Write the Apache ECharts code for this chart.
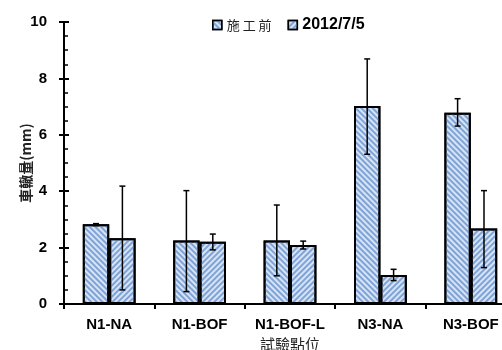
<!DOCTYPE html>
<html>
<head>
<meta charset="utf-8">
<script src="https://cdn.jsdelivr.net/npm/echarts@6/dist/echarts.min.js"></script>
<style>
  html, body { margin: 0; padding: 0; background: #fff; }
  #chart { width: 502px; height: 350px; }
</style>
</head>
<body>
<div id="chart"></div>
<script>
// 試驗點位
const categories = ['N1-NA', 'N1-BOF', 'N1-BOF-L', 'N3-NA', 'N3-BOF'];
const seriesNames = ['施工前', '2012/7/5'];

// 車轍量 (mm)
const before = [2.83, 2.25, 2.25, 7.02, 6.78];
const after = [2.33, 2.21, 2.09, 1.03, 2.68];

// error bar ranges [low, high]
const beforeErr = [[2.78, 2.85], [0.44, 4.02], [1.0, 3.51], [5.31, 8.69], [6.31, 7.28]];
const afterErr = [[0.5, 4.18], [1.92, 2.48], [1.95, 2.23], [0.83, 1.23], [1.29, 4.02]];

const yTicks = [0, 2, 4, 6, 8, 10];

const fillColor = '#d6e4f6';
const stripe = {
    symbol: 'rect',
    color: '#7fa3d6',
    dashArrayX: [1, 0],
    dashArrayY: [1.5, 2],
    rotation: Math.PI / 4
};
const stripe2 = Object.assign({}, stripe, { rotation: -Math.PI / 4 });

const latin = 'Liberation Sans, Arial, sans-serif';
const cjk = 'Noto Sans CJK TC, sans-serif';

function errorBars(errs, side) {
    return {
        type: 'custom',
        silent: true,
        z: 5,
        data: errs.map((e, i) => [i, e[0], e[1]]),
        renderItem: function (params, api) {
            const band = api.size([1, 0])[0];
            const barW = band * 0.292;
            const lo = api.coord([api.value(0), api.value(1)]);
            const hi = api.coord([api.value(0), api.value(2)]);
            const x = lo[0] + side * barW / 2;
            const cap = 3;
            const st = { stroke: '#000', lineWidth: 1.5 };
            return {
                type: 'group',
                children: [
                    { type: 'line', shape: { x1: x, y1: lo[1], x2: x, y2: hi[1] }, style: st },
                    { type: 'line', shape: { x1: x - cap, y1: lo[1], x2: x + cap, y2: lo[1] }, style: st },
                    { type: 'line', shape: { x1: x - cap, y1: hi[1], x2: x + cap, y2: hi[1] }, style: st }
                ]
            };
        }
    };
}

const chart = echarts.init(document.getElementById('chart'));
const option = {
    animation: false,
    backgroundColor: '#fff',
    legend: {
        top: 12,
        left: 207,
        itemWidth: 9,
        itemHeight: 9,
        itemGap: 16,
        icon: 'rect',
        data: [
            { name: seriesNames[0], textStyle: { fontFamily: cjk, fontSize: 13, color: '#222' } },
            { name: seriesNames[1], textStyle: { fontFamily: latin, fontSize: 16, fontWeight: 'bold', color: '#000' } }
        ],
        formatter: function (name) {
            return name === seriesNames[0] ? name.split('').join(' ') : name;
        },
        itemStyle: { borderColor: '#000', borderWidth: 1.5 }
    },
    grid: { left: 64, top: 22, width: 452, bottom: 46, containLabel: false, outerBoundsMode: 'none' },
    xAxis: {
        type: 'category',
        data: categories,
        name: '試驗點位',
        nameLocation: 'middle',
        nameGap: 31,
        nameTextStyle: { fontFamily: cjk, fontSize: 15, color: '#222' },
        axisLine: { lineStyle: { color: '#000', width: 2 } },
        axisTick: { show: true, length: 5, lineStyle: { color: '#000', width: 2 } },
        axisLabel: { interval: 0, hideOverlap: false, margin: 13, fontFamily: latin, fontSize: 15, fontWeight: 'bold', color: '#000' }
    },
    yAxis: [
        {
            type: 'value',
            min: yTicks[0],
            max: yTicks[yTicks.length - 1],
            interval: 2,
            name: '車轍量(mm)',
            nameLocation: 'middle',
            nameGap: 31,
            nameMoveOverlap: false,
            nameTextStyle: { fontFamily: cjk, fontSize: 14, fontWeight: 'bold', color: '#222' },
            axisLine: { show: true, lineStyle: { color: '#000', width: 2 } },
            axisTick: { show: true, length: 5, lineStyle: { color: '#000', width: 2 } },
            axisLabel: { margin: 17, fontFamily: latin, fontSize: 15, fontWeight: 'bold', color: '#000' },
            splitLine: { show: false }
        },
        {
            type: 'value',
            position: 'left',
            min: yTicks[0],
            max: yTicks[yTicks.length - 1],
            interval: 2,
            axisLine: { show: false },
            axisTick: { show: true, inside: true, length: 5, lineStyle: { color: '#000', width: 2 } },
            minorTick: { show: true, splitNumber: 4, length: 4, lineStyle: { color: '#000', width: 1.5 } },
            axisLabel: { show: false },
            splitLine: { show: false }
        }
    ],
    series: [
        {
            name: seriesNames[0],
            type: 'bar',
            data: before,
            barWidth: '29.2%',
            barGap: '0%',
            itemStyle: { color: fillColor, borderColor: '#000', borderWidth: 2, decal: stripe }
        },
        {
            name: seriesNames[1],
            type: 'bar',
            data: after,
            barWidth: '29.2%',
            barGap: '0%',
            itemStyle: { color: fillColor, borderColor: '#000', borderWidth: 2, decal: stripe2 }
        },
        errorBars(beforeErr, -1),
        errorBars(afterErr, 1)
    ]
};
chart.setOption(option);
</script>
</body>
</html>
